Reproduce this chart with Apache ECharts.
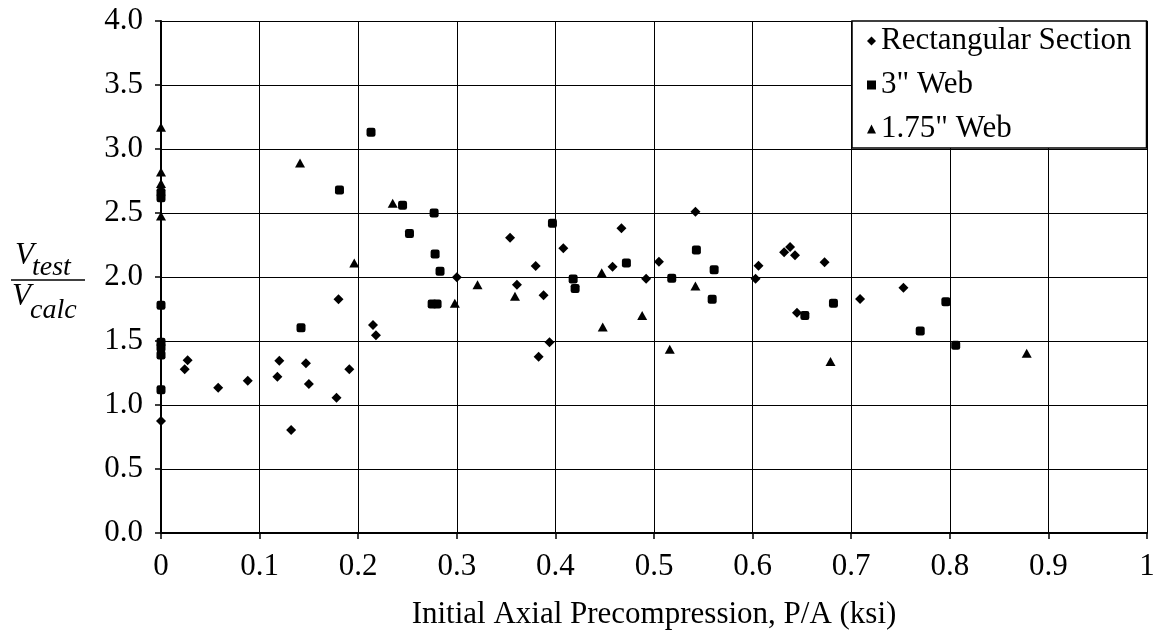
<!DOCTYPE html>
<html>
<head>
<meta charset="utf-8">
<script src="https://cdn.jsdelivr.net/npm/echarts@6/dist/echarts.min.js"></script>
<style>
html,body{margin:0;padding:0;background:#fff;}
#chart{width:1163px;height:635px;}
</style>
</head>
<body>
<div id="chart"></div>
<script>
// ---- data ----
var seriesNames = ['Rectangular Section', '3" Web', '1.75" Web'];

var rectX = [0, 0.024, 0.027, 0.058, 0.088, 0.118, 0.120, 0.132, 0.147, 0.150, 0.178, 0.180, 0.191, 0.215, 0.218,
             0.300, 0.354, 0.361, 0.380, 0.383, 0.388, 0.394, 0.408, 0.458, 0.467, 0.492, 0.505, 0.542,
             0.603, 0.606, 0.632, 0.638, 0.643, 0.645, 0.673, 0.709, 0.753];
var rectY = [0.875, 1.28, 1.35, 1.135, 1.19, 1.22, 1.346, 0.805, 1.326, 1.164, 1.057, 1.826, 1.279, 1.625, 1.545,
             1.998, 2.307, 1.94, 2.086, 1.377, 1.857, 1.49, 2.224, 2.08, 2.38, 1.987, 2.12, 2.51,
             1.987, 2.088, 2.193, 2.234, 2.17, 1.72, 2.115, 1.828, 1.916];

var web3X = [0, 0, 0, 0, 0, 0, 0, 0.142, 0.181, 0.213, 0.245, 0.252, 0.275, 0.280, 0.277, 0.278, 0.283,
             0.397, 0.418, 0.420, 0.472, 0.518, 0.543, 0.559, 0.561, 0.653, 0.682, 0.770, 0.796, 0.806];
var web3Y = [2.66, 2.62, 1.78, 1.49, 1.45, 1.39, 1.12, 1.604, 2.68, 3.13, 2.56, 2.34, 1.79, 1.79, 2.50, 2.18, 2.045,
             2.42, 1.984, 1.91, 2.11, 1.99, 2.21, 1.826, 2.057, 1.70, 1.794, 1.578, 1.807, 1.466];

var web175X = [0, 0, 0, 0, 0.141, 0.196, 0.235, 0.298, 0.321, 0.359, 0.447, 0.448, 0.488, 0.516, 0.542, 0.679, 0.878];
var web175Y = [3.17, 2.82, 2.73, 2.477, 2.89, 2.11, 2.576, 1.794, 1.94, 1.85, 2.034, 1.61, 1.70, 1.435, 1.93, 1.34, 1.404];

var xTickLabels = ['0', '0.1', '0.2', '0.3', '0.4', '0.5', '0.6', '0.7', '0.8', '0.9', '1'];
var yTickLabels = ['0.0', '0.5', '1.0', '1.5', '2.0', '2.5', '3.0', '3.5', '4.0'];

var xTitle = 'Initial Axial Precompression, P/A (ksi)';

// ---- build ----
function zip(xs, ys) { return xs.map(function (x, i) { return [x, ys[i]]; }); }

var FONT = '"Liberation Serif","Times New Roman",serif';

var chart = echarts.init(document.getElementById('chart'), null, {renderer: 'canvas'});

var option = {
  backgroundColor: '#fff',
  animation: false,
  grid: {left: 161, right: 16, top: 21, bottom: 102, containLabel: false},
  xAxis: {
    type: 'value', min: 0, max: 1, interval: 0.1,
    name: xTitle, nameLocation: 'middle', nameGap: 66,
    nameTextStyle: {fontFamily: FONT, fontSize: 31, color: '#000'},
    axisLine: {show: true, lineStyle: {color: '#000', width: 2}},
    axisTick: {show: true, length: 6, lineStyle: {color: '#000', width: 1.5}},
    axisLabel: {fontFamily: FONT, fontSize: 31, color: '#000', margin: 18,
      formatter: function (v, i) { return xTickLabels[Math.round(v * 10)]; }},
    splitLine: {show: true, lineStyle: {color: '#000', width: 1}}
  },
  yAxis: {
    type: 'value', min: 0, max: 4, interval: 0.5,
    axisLine: {show: true, lineStyle: {color: '#000', width: 2}},
    axisTick: {show: true, length: 6, lineStyle: {color: '#000', width: 1.5}},
    axisLabel: {fontFamily: FONT, fontSize: 31, color: '#000', margin: 18,
      formatter: function (v) { return yTickLabels[Math.round(v * 2)]; }},
    splitLine: {show: true, lineStyle: {color: '#000', width: 1}}
  },
  legend: {
    orient: 'vertical', left: 852, top: 21,
    padding: [3, 15, 2, 15],
    itemGap: 10, itemWidth: 9, itemHeight: 9,
    backgroundColor: '#fff', borderColor: '#000', borderWidth: 1.5,
    textStyle: {fontFamily: FONT, fontSize: 31, color: '#000', lineHeight: 34},
    data: [
      {name: seriesNames[0], icon: 'diamond'},
      {name: seriesNames[1], icon: 'rect'},
      {name: seriesNames[2], icon: 'triangle'}
    ]
  },
  graphic: [
    {type: 'text', left: 15, top: 240, style: {text: 'V', font: 'italic 31px ' + FONT, fill: '#000'}},
    {type: 'text', left: 32, top: 254, style: {text: 'test', font: 'italic 28px ' + FONT, fill: '#000'}},
    {type: 'line', shape: {x1: 11, y1: 280, x2: 85, y2: 280}, style: {stroke: '#000', lineWidth: 1.5}},
    {type: 'text', left: 12, top: 281, style: {text: 'V', font: 'italic 31px ' + FONT, fill: '#000'}},
    {type: 'text', left: 30, top: 297, style: {text: 'calc', font: 'italic 28px ' + FONT, fill: '#000'}}
  ],
  series: [
    {name: seriesNames[0], type: 'scatter', symbol: 'diamond', symbolSize: 10,
      itemStyle: {color: '#000', opacity: 1}, data: zip(rectX, rectY), z: 3},
    {name: seriesNames[1], type: 'scatter', symbol: 'roundRect', symbolSize: 9,
      itemStyle: {color: '#000', opacity: 1}, data: zip(web3X, web3Y), z: 3},
    {name: seriesNames[2], type: 'scatter', symbol: 'triangle', symbolSize: [10, 9],
      itemStyle: {color: '#000', opacity: 1}, data: zip(web175X, web175Y), z: 3}
  ]
};
chart.setOption(option);
</script>
</body>
</html>
